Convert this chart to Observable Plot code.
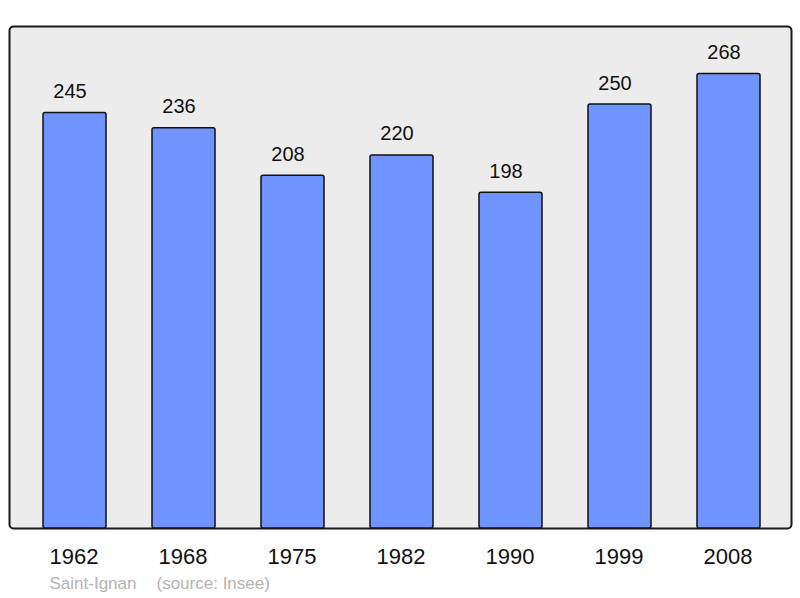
<!DOCTYPE html>
<html>
<head>
<meta charset="utf-8">
<script src="https://cdn.jsdelivr.net/npm/d3@7"></script>
<script src="https://cdn.jsdelivr.net/npm/@observablehq/plot@0.6"></script>
<style>
  html, body { margin: 0; padding: 0; background: #fff; }
  svg { display: block; }
</style>
</head>
<body>
<div id="chart"></div>
<script>
const years = ["1962", "1968", "1975", "1982", "1990", "1999", "2008"];
const population = [245, 236, 208, 220, 198, 250, 268];
const commune = "Saint-Ignan";
const source = "(source: Insee)";

const data = years.map((y, i) => ({year: y, value: population[i]}));

const chart = Plot.plot({
  width: 800,
  height: 598,
  marginTop: 26,
  marginBottom: 70,
  marginLeft: 9,
  marginRight: 9,
  style: {fontFamily: "'Liberation Sans', Arial, sans-serif", background: "#fff"},
  x: {domain: years, range: [41.6, 761.4], paddingInner: 0.42, paddingOuter: 0, label: null},
  y: {domain: [0, 296], axis: null},
  marks: [
    Plot.frame({fill: "#ececec", stroke: "#1a1a1a", strokeWidth: 2, rx: 4}),
    Plot.barY(data, {x: "year", y: "value", fill: "#7094ff", stroke: "#111", strokeWidth: 1.5, rx: 2}),
    Plot.text(data, {x: "year", y: "value", text: d => String(d.value), dy: -15, dx: -5, lineAnchor: "bottom", fontSize: 20, fill: "#111"}),
    Plot.axisX({tickSize: 0, tickPadding: 20, fontSize: 22, color: "#111", dx: -1}),
    Plot.text([commune], {frameAnchor: "bottom-left", text: d => d, dx: 40, dy: 60, textAnchor: "start", lineAnchor: "bottom", fontSize: 17, fill: "#b3b3b3"}),
    Plot.text([source], {frameAnchor: "bottom-left", text: d => d, dx: 147, dy: 60, textAnchor: "start", lineAnchor: "bottom", fontSize: 17, fill: "#b3b3b3"})
  ]
});
document.getElementById("chart").appendChild(chart);
</script>
</body>
</html>
